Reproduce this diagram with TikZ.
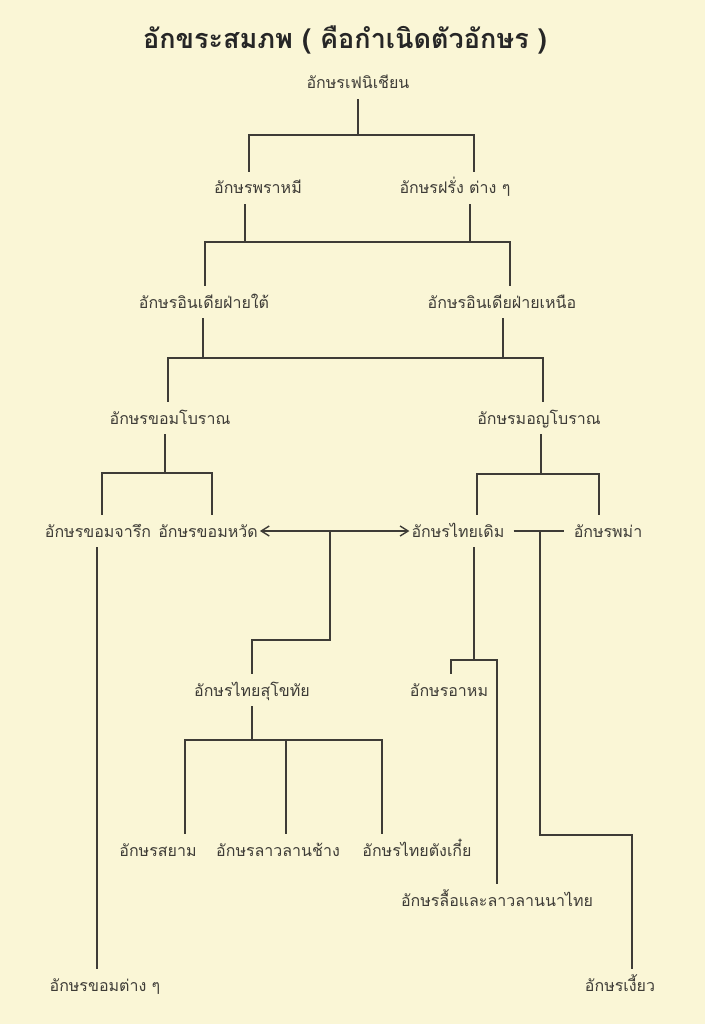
\documentclass[tikz,border=0pt]{standalone}
\usepackage{fontspec}
\newfontfamily\thaifont[Script=Thai]{Loma}
\usetikzlibrary{arrows.meta}
\definecolor{paper}{RGB}{250,246,214}
\definecolor{ink}{RGB}{62,60,55}
\begin{document}
\begin{tikzpicture}[x=1pt,y=-1pt,
  lbl/.style={font=\thaifont\fontsize{16}{18}\selectfont, text=ink, inner xsep=2pt, inner ysep=8pt, text height=14pt, text depth=2pt},
  ttl/.style={font=\thaifont\bfseries\fontsize{27}{32}\selectfont, text=black!85},
  ln/.style={draw=ink, line width=1.4pt},
  biarrow/.style={{Straight Barb[length=8pt,width=10pt]}-{Straight Barb[length=8pt,width=10pt]}}]
\fill[paper] (0,0) rectangle (705,1024);
\useasboundingbox (0,0) rectangle (705,1024);

% title
\node[ttl] (title) at (345,40) {อักขระสมภพ ( คือกำเนิดตัวอักษร )};

% nodes
\node[lbl] (phoen) at (358,83) {อักษรเฟนิเชียน};
\node[lbl] (brahmi) at (258,188) {อักษรพราหมี};
\node[lbl] (farang) at (455,188) {อักษรฝรั่ง ต่าง ๆ};
\node[lbl] (south) at (204,302) {อักษรอินเดียฝ่ายใต้};
\node[lbl] (north) at (502,302) {อักษรอินเดียฝ่ายเหนือ};
\node[lbl] (khomb) at (170,418) {อักษรขอมโบราณ};
\node[lbl] (mon) at (539,418) {อักษรมอญโบราณ};
\node[lbl] (khomj) at (98,531) {อักษรขอมจารึก};
\node[lbl] (khomw) at (208,531) {อักษรขอมหวัด};
\node[lbl] (thaid) at (458,531) {อักษรไทยเดิม};
\node[lbl] (burma) at (608,531) {อักษรพม่า};
\node[lbl] (sukho) at (252,690) {อักษรไทยสุโขทัย};
\node[lbl] (ahom) at (449,690) {อักษรอาหม};
\node[lbl] (siam) at (158,850) {อักษรสยาม};
\node[lbl] (laos) at (278,850) {อักษรลาวลานช้าง};
\node[lbl] (tonkin) at (417,850) {อักษรไทยตังเกี๋ย};
\node[lbl] (lue) at (497,900) {อักษรลื้อและลาวลานนาไทย};
\node[lbl] (khomt) at (105,985) {อักษรขอมต่าง ๆ};
\node[lbl] (ngiao) at (620,985) {อักษรเงี้ยว};

% junction coordinates
\coordinate (h1) at (358,135);
\coordinate (h1L) at (249,135);
\coordinate (h1R) at (474,135);
\coordinate (s2a) at (245,242);
\coordinate (s2b) at (470,242);
\coordinate (h2L) at (205,242);
\coordinate (h2R) at (510,242);
\coordinate (s3a) at (203,358);
\coordinate (s3b) at (503,358);
\coordinate (h3L) at (168,358);
\coordinate (h3R) at (543,358);
\coordinate (s4a) at (165,473);
\coordinate (h4L) at (102,473);
\coordinate (h4R) at (212,473);
\coordinate (s5a) at (541,474);
\coordinate (h5L) at (477,474);
\coordinate (h5R) at (599,474);
\coordinate (j6) at (330,531);
\coordinate (j6b) at (330,640);
\coordinate (s7) at (474,660);
\coordinate (h7L) at (451,660);
\coordinate (h7R) at (497,660);
\coordinate (j8) at (540,531);
\coordinate (j8b) at (540,835);
\coordinate (j8c) at (632,835);
\coordinate (s9) at (252,740);
\coordinate (h9L) at (185,740);
\coordinate (h9M) at (286,740);
\coordinate (h9R) at (382,740);
\coordinate (s10) at (97,531);

% level 1
\draw[ln] (phoen.south) -- (h1);
\draw[ln] (brahmi.north -| h1L) -- (h1L) -- (h1R) -- (farang.north -| h1R);
% level 2
\draw[ln] (brahmi.south -| s2a) -- (s2a);
\draw[ln] (farang.south -| s2b) -- (s2b);
\draw[ln] (south.north -| h2L) -- (h2L) -- (h2R) -- (north.north -| h2R);
% level 3
\draw[ln] (south.south -| s3a) -- (s3a);
\draw[ln] (north.south -| s3b) -- (s3b);
\draw[ln] (khomb.north -| h3L) -- (h3L) -- (h3R) -- (mon.north -| h3R);
% level 4
\draw[ln] (khomb.south -| s4a) -- (s4a);
\draw[ln] (khomj.north -| h4L) -- (h4L) -- (h4R) -- (khomw.north -| h4R);
\draw[ln] (mon.south -| s5a) -- (s5a);
\draw[ln] (thaid.north -| h5L) -- (h5L) -- (h5R) -- (burma.north -| h5R);
% arrow row
\draw[ln, biarrow] (khomw.east) -- (thaid.west);
\draw[ln] (j6) -- (j6b) -- (sukho.north |- j6b) -- (sukho.north);
\draw[ln, shorten <=7pt, shorten >=8pt] (thaid.east) -- (burma.west);
\draw[ln] (j8) -- (j8b) -- (j8c) -- (ngiao.north -| j8c);
% thai doem branch
\draw[ln] (thaid.south -| s7) -- (s7);
\draw[ln] (ahom.north -| h7L) -- (h7L) -- (h7R) -- (lue.north -| h7R);
% sukhothai branch
\draw[ln] (sukho.south) -- (s9);
\draw[ln] (siam.north -| h9L) -- (h9L) -- (h9R) -- (tonkin.north -| h9R);
\draw[ln] (h9M) -- (laos.north -| h9M);
% khom jaruek
\draw[ln] (khomj.south -| s10) -- (khomt.north -| s10);
\end{tikzpicture}
\end{document}
